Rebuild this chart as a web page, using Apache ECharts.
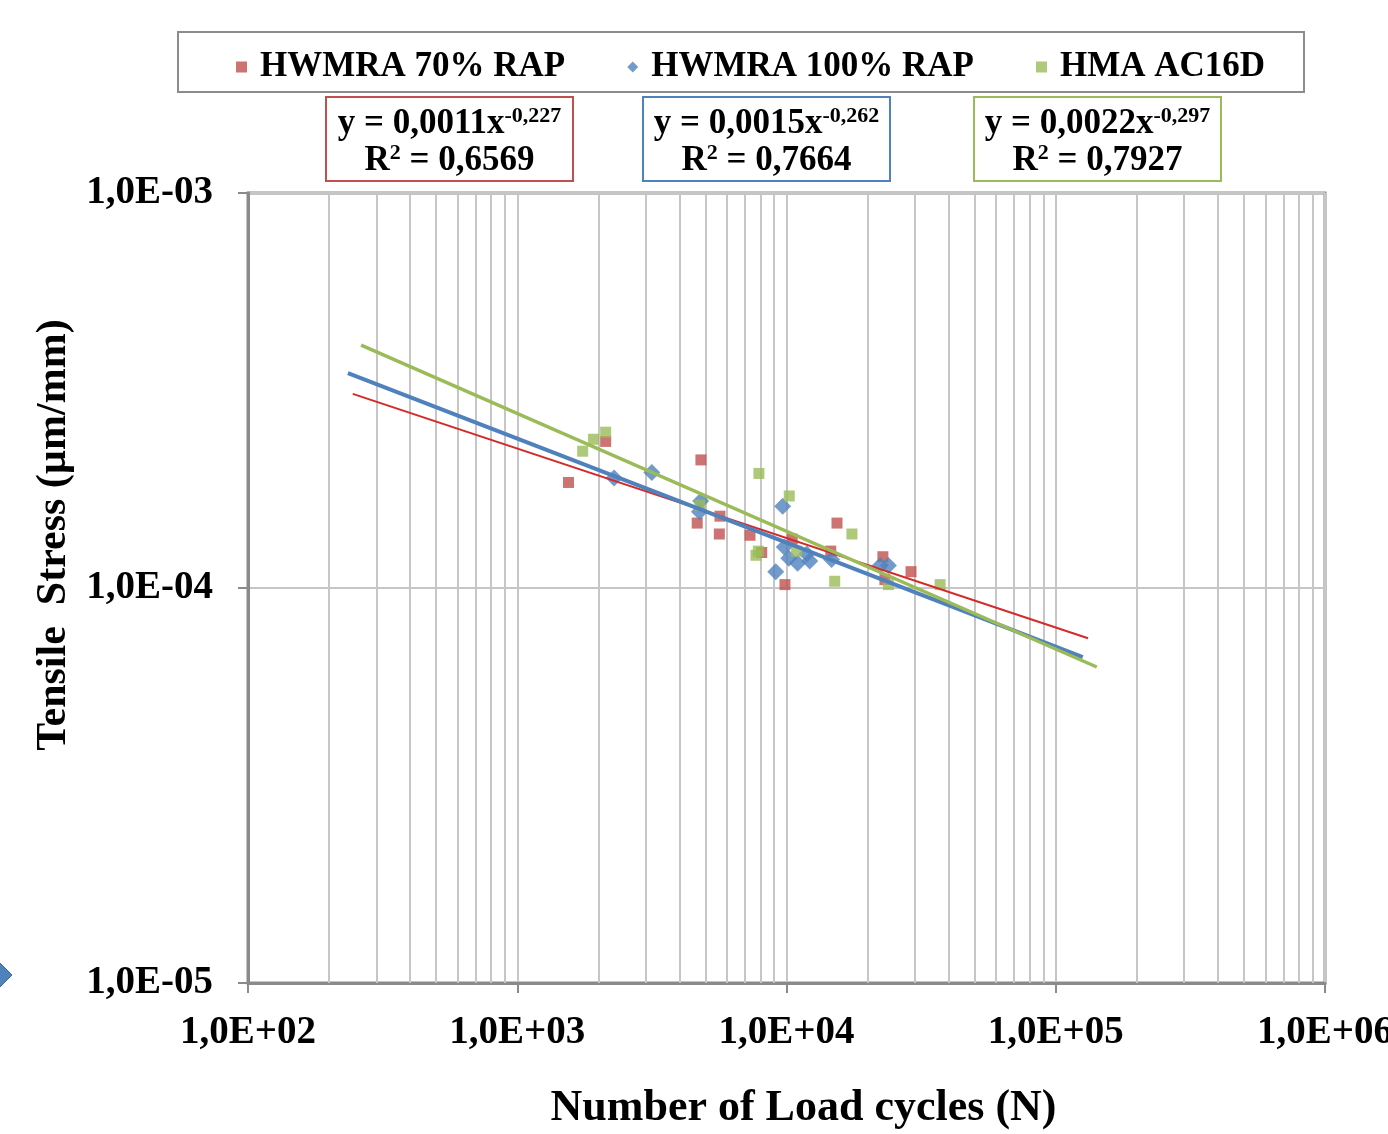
<!DOCTYPE html>
<html>
<head>
<meta charset="utf-8">
<script src="https://cdn.jsdelivr.net/npm/echarts@6/dist/echarts.min.js"></script>
<style>
html,body{margin:0;padding:0;background:#fff;}
#chart{width:1388px;height:1134px;}
</style>
</head>
<body>
<div id="chart"></div>
<script>
// ---- data ----
const seriesNames = ['HWMRA 70% RAP', 'HWMRA 100% RAP', 'HMA AC16D'];

const redX = [1550, 2130, 4810, 4660, 5660, 5630, 7320, 8090, 9870, 10500, 15400, 14600, 22800, 23200, 29000];
const redY = [1.85e-4, 2.35e-4, 2.11e-4, 1.46e-4, 1.52e-4, 1.37e-4, 1.36e-4, 1.23e-4, 1.02e-4, 1.33e-4, 1.46e-4, 1.24e-4, 1.20e-4, 1.05e-4, 1.10e-4];

const blueX = [2290, 3160, 4800, 4750, 9680, 9120, 9810, 10200, 11000, 11900, 12200, 14700, 22300, 23900];
const blueY = [1.90e-4, 1.96e-4, 1.66e-4, 1.56e-4, 1.61e-4, 1.10e-4, 1.27e-4, 1.19e-4, 1.155e-4, 1.22e-4, 1.17e-4, 1.18e-4, 1.14e-4, 1.14e-4];

const greenX = [1750, 1920, 2130, 4770, 7900, 7700, 7860, 10240, 10900, 17500, 15100, 23900, 37200];
const greenY = [2.22e-4, 2.38e-4, 2.48e-4, 1.62e-4, 1.95e-4, 1.21e-4, 1.24e-4, 1.71e-4, 1.24e-4, 1.37e-4, 1.04e-4, 1.02e-4, 1.02e-4];

// trend line end points (as drawn in the reference)
const redTrendX = [245, 131800];
const redTrendY = [3.10e-4, 7.46e-5];
const blueTrendX = [235, 126000];
const blueTrendY = [3.50e-4, 6.68e-5];
const greenTrendX = [263, 142000];
const greenTrendY = [4.12e-4, 6.31e-5];

const equations = [
  {coef: '0,0011', exp: '-0,227', r2: '0,6569'},
  {coef: '0,0015', exp: '-0,262', r2: '0,7664'},
  {coef: '0,0022', exp: '-0,297', r2: '0,7927'}
];

const xMin = 100, xMax = 1e6;
const yMin = 1e-5, yMax = 1e-3;
const yAxisTitle = 'Tensile  Stress (µm/mm)';
const xAxisTitle = 'Number of Load cycles (N)';

// ---- styling ----
const FONT = 'Liberation Serif';
const COLORS = ['#C0504D', '#4F81BD', '#9BBB59'];
const TREND_COLORS = ['#D42A2A', '#4F81BD', '#9BBB59'];
const GRID_COLOR = '#c6c6c6';
const AXIS_COLOR = '#8a8a8a';

const zip = (xs, ys) => xs.map((x, i) => [x, ys[i]]);

function sciLabel(v) {
  const e = Math.round(Math.log10(v));
  return '1,0E' + (e < 0 ? '-' : '+') + String(Math.abs(e)).padStart(2, '0');
}

// minor grid values (2..9 × each decade)
function minorValues(lo, hi) {
  const out = [];
  for (let d = lo; d < hi * 0.999; d *= 10) {
    for (let k = 2; k <= 9; k++) out.push(k * d);
  }
  return out;
}
const minorLines = [].concat(
  minorValues(xMin, xMax).map(v => ({xAxis: v})),
  minorValues(yMin, yMax).map(v => ({yAxis: v}))
);

const chart = echarts.init(document.getElementById('chart'), null, {renderer: 'canvas'});

const boxW = 247, boxH = 84, boxTop = 97;
const boxLefts = [326, 643, 974];

const graphics = [];
graphics.push({
  type: 'rect', z: 0,
  shape: {x: 178, y: 32, width: 1126, height: 60},
  style: {fill: '#fff', stroke: '#8c8c8c', lineWidth: 2}
});
equations.forEach((eq, i) => {
  graphics.push({
    type: 'rect', z: 0,
    shape: {x: boxLefts[i], y: boxTop, width: boxW, height: boxH},
    style: {fill: '#fff', stroke: COLORS[i], lineWidth: 2}
  });
  graphics.push({
    type: 'text', z: 1,
    x: boxLefts[i] + boxW / 2, y: boxTop + boxH / 2 + 3,
    style: {
      text: '{b|y = ' + eq.coef + 'x}{s|' + eq.exp + '}\n{b|R}{s|2}{b| = ' + eq.r2 + '}',
      align: 'center', verticalAlign: 'middle',
      rich: {
        b: {fontFamily: FONT, fontWeight: 'bold', fontSize: 35, lineHeight: 37, fill: '#000'},
        s: {fontFamily: FONT, fontWeight: 'bold', fontSize: 22, lineHeight: 37, verticalAlign: 'top', fill: '#000', padding: [0, 0, 4, 0]}
      }
    }
  });
});
// partial diamond at the left border of the picture
graphics.push({
  type: 'polygon', z: 0,
  shape: {points: [[-18, 975], [-3, 960], [12, 975], [-3, 990]]},
  style: {fill: '#4F81BD', stroke: '#3a6aa0', lineWidth: 1}
});

const option = {
  animation: false,
  backgroundColor: '#fff',
  grid: {
    left: 248, top: 193, width: 1077, height: 790,
    outerBoundsMode: 'none', containLabel: false,
    show: true, borderColor: AXIS_COLOR, borderWidth: 3, backgroundColor: 'transparent'
  },
  legend: {
    left: 231, top: 44,
    itemWidth: 11, itemHeight: 11, itemGap: 62,
    data: [
      {name: seriesNames[0], icon: 'rect'},
      {name: seriesNames[1], icon: 'diamond'},
      {name: seriesNames[2], icon: 'rect'}
    ],
    textStyle: {fontFamily: FONT, fontWeight: 'bold', fontSize: 35, color: '#000', lineHeight: 36, padding: [0, 0, 0, 8]},
    selectedMode: false
  },
  xAxis: {
    type: 'log', logBase: 10, min: xMin, max: xMax,
    name: xAxisTitle, nameLocation: 'middle', nameGap: 104,
    nameTextStyle: {fontFamily: FONT, fontWeight: 'bold', fontSize: 44, color: '#000', padding: [0, 0, 0, 34]},
    axisLine: {show: true, lineStyle: {color: AXIS_COLOR, width: 3}},
    axisTick: {show: true, length: 10, lineStyle: {color: AXIS_COLOR, width: 2}},
    axisLabel: {formatter: sciLabel, fontFamily: FONT, fontWeight: 'bold', fontSize: 39, color: '#000', margin: 30, showMinLabel: true, showMaxLabel: true, hideOverlap: false},
    splitLine: {show: true, lineStyle: {color: GRID_COLOR, width: 2}},
    minorTick: {show: false}, minorSplitLine: {show: false}
  },
  yAxis: {
    type: 'log', logBase: 10, min: yMin, max: yMax,
    name: yAxisTitle, nameLocation: 'middle', nameGap: 162,
    nameTextStyle: {fontFamily: FONT, fontWeight: 'bold', fontSize: 42, color: '#000', padding: [0, 0, 0, 106]},
    axisLine: {show: true, lineStyle: {color: AXIS_COLOR, width: 3}},
    axisTick: {show: true, length: 10, lineStyle: {color: AXIS_COLOR, width: 2}},
    axisLabel: {formatter: sciLabel, fontFamily: FONT, fontWeight: 'bold', fontSize: 39, color: '#000', margin: 35, showMinLabel: true, showMaxLabel: true},
    splitLine: {show: true, lineStyle: {color: GRID_COLOR, width: 2}},
    minorTick: {show: false}, minorSplitLine: {show: false}
  },
  graphic: graphics,
  series: [
    {
      name: '__grid', type: 'scatter', data: [], silent: true, z: 1,
      markLine: {
        silent: true, symbol: 'none', z: 1, animation: false,
        label: {show: false}, emphasis: {disabled: true},
        lineStyle: {color: GRID_COLOR, width: 2, type: 'solid'},
        data: minorLines
      }
    },
    {
      name: seriesNames[0], type: 'scatter', symbol: 'rect', symbolSize: 11, z: 2,
      itemStyle: {color: COLORS[0]}, data: zip(redX, redY)
    },
    {
      name: seriesNames[1], type: 'scatter', symbol: 'diamond', symbolSize: 17, z: 2,
      itemStyle: {color: COLORS[1]}, data: zip(blueX, blueY)
    },
    {
      name: seriesNames[2], type: 'scatter', symbol: 'rect', symbolSize: 11, z: 2,
      itemStyle: {color: COLORS[2]}, data: zip(greenX, greenY)
    },
    {
      name: seriesNames[0] + ' trend', type: 'line', showSymbol: false, symbol: 'none', z: 3, silent: true,
      lineStyle: {color: TREND_COLORS[0], width: 2}, data: zip(redTrendX, redTrendY)
    },
    {
      name: seriesNames[1] + ' trend', type: 'line', showSymbol: false, symbol: 'none', z: 3, silent: true,
      lineStyle: {color: TREND_COLORS[1], width: 4}, data: zip(blueTrendX, blueTrendY)
    },
    {
      name: seriesNames[2] + ' trend', type: 'line', showSymbol: false, symbol: 'none', z: 3, silent: true,
      lineStyle: {color: TREND_COLORS[2], width: 3.5}, data: zip(greenTrendX, greenTrendY)
    }
  ]
};
chart.setOption(option);
</script>
</body>
</html>
